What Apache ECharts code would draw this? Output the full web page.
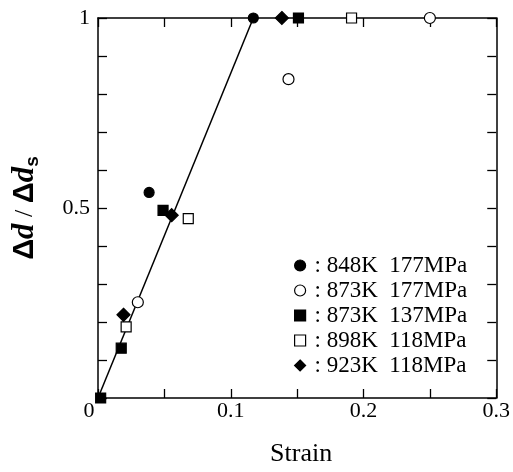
<!DOCTYPE html>
<html><head><meta charset="utf-8">
<script src="https://cdn.jsdelivr.net/npm/echarts@6/dist/echarts.min.js"></script>
<style>html,body{margin:0;padding:0;background:#fff}#c{width:513px;height:472px}</style>
</head><body><div id="c"></div>
<script>
// Data
const xTickLabels = ['0', '0.1', '0.2', '0.3'];
const yTickLabels = ['0.5', '1'];
const legendLabels = [': 848K  177MPa', ': 873K  177MPa', ': 873K  137MPa', ': 898K  118MPa', ': 923K  118MPa'];
const s848_177_x = [0.0385, 0.117];
const s848_177_y = [0.541, 1.0];
const s873_177_x = [0.030, 0.1435, 0.250];
const s873_177_y = [0.252, 0.839, 1.0];
const s873_137_x = [0.002, 0.0175, 0.049, 0.151];
const s873_137_y = [0.0, 0.131, 0.494, 1.0];
const s898_118_x = [0.0212, 0.068, 0.191];
const s898_118_y = [0.187, 0.472, 1.0];
const s923_118_x = [0.0192, 0.0555, 0.1385];
const s923_118_y = [0.219, 0.481, 1.0];
const fit_x = [0.0, 0.117];
const fit_y = [0.0, 1.0];

const zip = (a, b) => a.map((v, i) => [v, b[i]]);
const serif = '"Liberation Serif", "DejaVu Serif", serif';
const fmtNum = v => Math.abs(v - Math.round(v * 10) / 10) < 1e-9 ? String(Math.round(v * 10) / 10) : '';

const styles = [
  { symbol: 'circle', size: 10, color: '#000', border: '#000' },
  { symbol: 'circle', size: 11, color: '#fff', border: '#000' },
  { symbol: 'rect', size: 10, color: '#000', border: '#000' },
  { symbol: 'rect', size: 10, color: '#fff', border: '#000' },
  { symbol: 'diamond', size: [13, 13], color: '#000', border: '#000' }
];
const datasets = [
  zip(s848_177_x, s848_177_y), zip(s873_177_x, s873_177_y), zip(s873_137_x, s873_137_y),
  zip(s898_118_x, s898_118_y), zip(s923_118_x, s923_118_y)
];

const axisCommon = {
  axisLine: { show: true, onZero: false, lineStyle: { color: '#000', width: 1.5 } },
  axisTick: { show: true, inside: true, length: 9, lineStyle: { color: '#000', width: 1.3 } },
  splitLine: { show: false }
};

const chart = echarts.init(document.getElementById('c'), null, { renderer: 'canvas' });
chart.setOption({
  animation: false,
  backgroundColor: '#fff',
  grid: { left: 98, right: 16, top: 18, bottom: 68 },
  legend: {
    orient: 'vertical', left: 289, top: 248, itemGap: 0, itemWidth: 11, itemHeight: 11,
    textStyle: { fontFamily: serif, fontSize: 23, color: '#000', lineHeight: 25, padding: [0, 0, 0, 4] },
    data: legendLabels.map((n, i) => ({
      name: n, icon: styles[i].symbol,
      itemStyle: { color: styles[i].color, borderColor: styles[i].border, borderWidth: 1.2 }
    }))
  },
  xAxis: [
    Object.assign({
      type: 'value', min: 0, max: 0.3, interval: 0.05, position: 'bottom',
      name: 'Strain', nameLocation: 'middle', nameGap: 43,
      nameTextStyle: { fontFamily: serif, fontSize: 26, color: '#000', padding: [0, 0, 0, 8] },
      axisLabel: {
        margin: 2, color: '#000', fontFamily: serif, fontSize: 22, showMaxLabel: true, showMinLabel: true,
        formatter: v => { const s = fmtNum(v); if (s === '0') return '{z|0}'; return xTickLabels.includes(s) ? s : ''; },
        rich: { z: { fontFamily: serif, fontSize: 22, color: '#000', padding: [0, 18, 0, 0] } }
      }
    }, axisCommon),
    Object.assign({
      type: 'value', min: 0, max: 0.3, interval: 0.05, position: 'top', axisLabel: { show: false }
    }, axisCommon)
  ],
  yAxis: [
    Object.assign({
      type: 'value', min: 0, max: 1, interval: 0.1, position: 'left',
      name: '{D|Δ}{d|d}{sl| / }{D|Δ}{d|d}{s|s}', nameLocation: 'middle', nameGap: 56, nameRotate: 90,
      nameTextStyle: {
        rich: {
          D: { fontFamily: '"Liberation Sans", sans-serif', fontWeight: 'bold', fontSize: 29, color: '#000', lineHeight: 34 },
          d: { fontFamily: serif, fontStyle: 'italic', fontWeight: 'bold', fontSize: 31, color: '#000', lineHeight: 34 },
          sl: { fontFamily: serif, fontSize: 26, color: '#000', lineHeight: 34 },
          s: { fontFamily: '"Liberation Sans", sans-serif', fontWeight: 'bold', fontSize: 19, color: '#000', verticalAlign: 'bottom', lineHeight: 34, padding: [12, 0, 0, 0] }
        }
      },
      axisLabel: {
        margin: 8, color: '#000', fontFamily: serif, fontSize: 22,
        formatter: v => { const s = fmtNum(v); return yTickLabels.includes(s) ? s : ''; }
      }
    }, axisCommon),
    Object.assign({
      type: 'value', min: 0, max: 1, interval: 0.1, position: 'right', axisLabel: { show: false }
    }, axisCommon)
  ],
  series: [
    {
      type: 'line', name: 'fit', data: zip(fit_x, fit_y), showSymbol: false, symbol: 'none',
      lineStyle: { color: '#000', width: 1.5 }, z: 1, legendHoverLink: false
    }
  ].concat(datasets.map((d, i) => ({
    type: 'scatter', name: legendLabels[i], data: d, symbol: styles[i].symbol, symbolSize: styles[i].size,
    itemStyle: { color: styles[i].color, borderColor: styles[i].border, borderWidth: 1.2, opacity: 1 }, z: 3
  })))
});
</script></body></html>
